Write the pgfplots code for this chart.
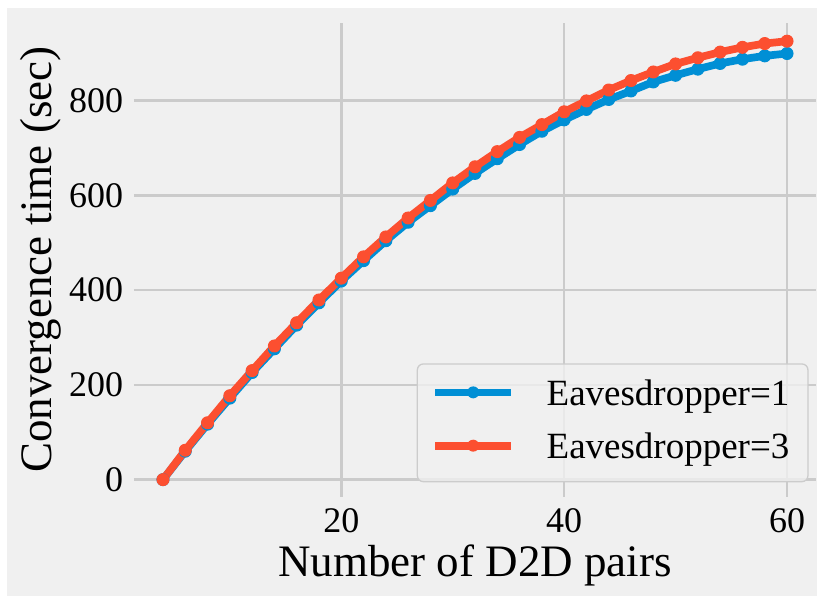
\documentclass[border=0pt]{standalone}
\usepackage{fontspec}
\setmainfont{Liberation Serif}
\usepackage{pgfplots}
\pgfplotsset{compat=1.18}
\definecolor{bgc}{HTML}{F0F0F0}
\definecolor{gridc}{HTML}{CBCBCB}
\definecolor{c1}{HTML}{008FD5}
\definecolor{c2}{HTML}{FC4F30}
\definecolor{legc}{HTML}{CCCCCC}
\begin{document}
\begin{tikzpicture}
\fill[white] (-134pt,-99.3pt) rectangle (683pt,496.7pt);
\fill[bgc] (-127pt,-99.3pt) rectangle (683pt,488.7pt);
\begin{axis}[
 at={(0,0)}, anchor=south west,
 scale only axis, width=682pt, height=474pt,
 xmin=1.4, xmax=62.6, ymin=-36, ymax=964,
 xtick={20,40,60}, xticklabels={20,40,60},
 ytick={0,200,400,600,800}, yticklabels={0,200,400,600,800},
 major tick length=0pt,
 axis line style={draw=none},
 grid=major, major grid style={gridc, line width=2.6pt},
 tick label style={font=\fontsize{36}{40}\selectfont},
 xticklabel style={anchor=base, inner sep=0pt, yshift=-35.6pt},
 yticklabel style={anchor=east, inner sep=0pt, xshift=-10.7pt},
 xlabel={Number of D2D pairs}, ylabel={Convergence time (sec)},
 label style={font=\fontsize{45}{50}\selectfont},
 xlabel style={at={([yshift=-80pt]axis description cs:0.5,0)}, anchor=base, inner sep=0pt},
 ylabel style={at={([xshift=-82pt]axis description cs:0,0.5)}, anchor=base, inner sep=0pt},
 legend style={
   at={(0.4145,0.2814)}, anchor=north west,
   draw=legc, line width=1.3pt, rounded corners=6pt,
   fill=bgc, fill opacity=0.8, draw opacity=1, text opacity=1,
   inner xsep=14pt, inner ysep=10pt,
   row sep=8.9pt, column sep=31.6pt,
   font=\fontsize{37}{40}\selectfont,
   nodes={inner sep=0pt, text height=31.7pt, text depth=12.7pt, text width=247.3pt, align=left},
   cells={anchor=base west},
 },
 legend image code/.code={
   \draw[#1, line width=7.7pt, opacity=1, rounded corners=0pt] (0pt,13.3pt) -- (76pt,13.3pt);
   \fill[#1, opacity=1, draw=none] (38pt,13.3pt) circle (6pt);
 },
]
\addplot[color=c1, line width=7.7pt, line join=round, mark=*, mark size=6pt, mark options={line width=1pt, fill=c1}] coordinates {
(4,0) (6,60) (8,117) (10,172) (12,226) (14,276) (16,326) (18,373) (20,419) (22,462)
(24,504) (26,543) (28,578) (30,613) (32,646) (34,677) (36,707) (38,735) (40,759) (42,781)
(44,802) (46,820) (48,839) (50,853) (52,866) (54,878) (56,887) (58,894) (60,899)
};
\addlegendentry{Eavesdropper=1}
\addplot[color=c2, line width=7.7pt, line join=round, mark=*, mark size=6pt, mark options={line width=1pt, fill=c2}] coordinates {
(4,0) (6,62) (8,120) (10,177) (12,230) (14,282) (16,331) (18,379) (20,425) (22,470)
(24,512) (26,552) (28,589) (30,626) (32,660) (34,692) (36,722) (38,749) (40,776) (42,799)
(44,822) (46,842) (48,860) (50,877) (52,890) (54,902) (56,912) (58,920) (60,925)
};
\addlegendentry{Eavesdropper=3}
\end{axis}
\pgfresetboundingbox
\path (-134pt,-99.3pt) rectangle (683pt,496.7pt);
\end{tikzpicture}
\end{document}
